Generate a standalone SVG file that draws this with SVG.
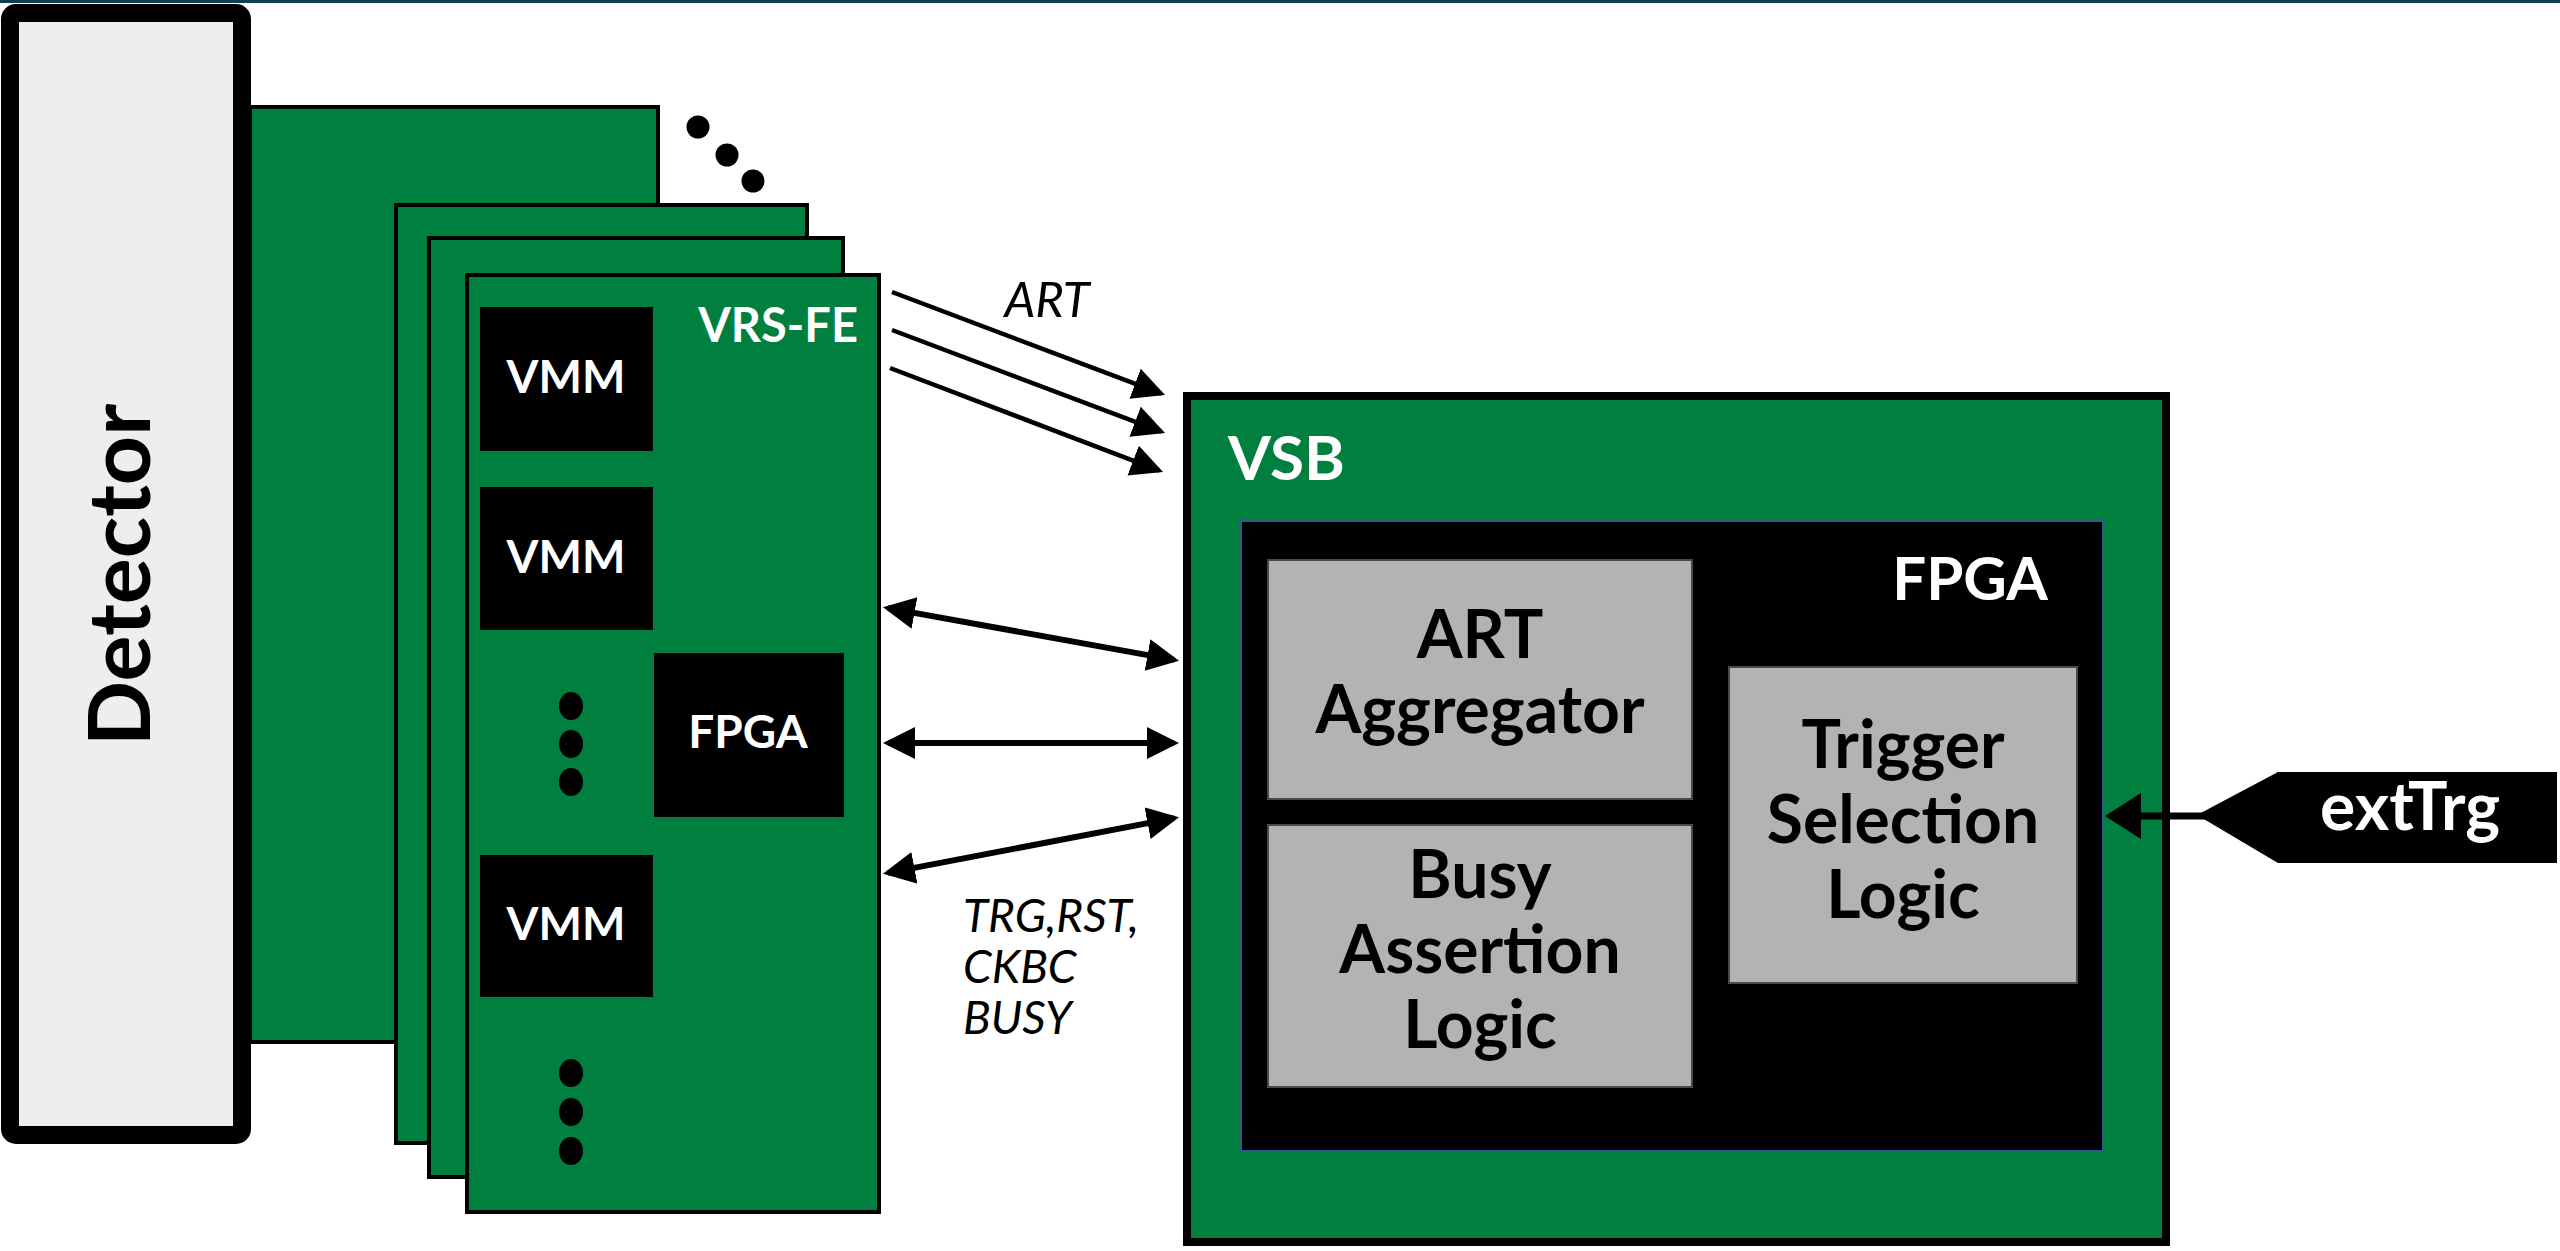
<svg xmlns="http://www.w3.org/2000/svg" width="2560" height="1251" viewBox="0 0 2560 1251">
<style>
  .board { fill: #007f3e; stroke: #000; stroke-width: 4; }
  .chip { fill: #000; }
  .gray { fill: #b3b3b3; stroke: #4a4a4a; stroke-width: 2; }
  .wb { font-family: Lato, "Liberation Sans", sans-serif; font-weight: bold; fill: #fff; }
  .kb { font-family: Lato, "Liberation Sans", sans-serif; font-weight: bold; fill: #000; }
  .ki { font-family: Lato, "Liberation Sans", sans-serif; font-style: italic; fill: #000; }
  .dot { fill: #000; }
  .c6 { stroke: #000; stroke-width: 6; fill: none; }
  .c4 { stroke: #000; stroke-width: 4.5; fill: none; }
</style>
<defs>
  <marker id="ahBi" markerUnits="userSpaceOnUse" markerWidth="34" markerHeight="34" refX="27" refY="16" orient="auto-start-reverse" viewBox="0 0 34 34">
    <path d="M0,0 L32,16 L0,32 z" fill="#000"/>
  </marker>
  <marker id="ahArt" markerUnits="userSpaceOnUse" markerWidth="34" markerHeight="34" refX="28" refY="16" orient="auto" viewBox="0 0 34 34">
    <path d="M0,0 L32,16 L0,32 z" fill="#000"/>
  </marker>
  <marker id="ahExt" markerUnits="userSpaceOnUse" markerWidth="40" markerHeight="48" refX="31" refY="23" orient="auto" viewBox="0 0 40 48">
    <path d="M0,0 L36,23 L0,46 z" fill="#000"/>
  </marker>
</defs>
<rect x="0" y="0" width="2560" height="1251" fill="#fff"/>
<rect x="0" y="0" width="2560" height="3" fill="#123f57"/>

<g id="detector">
  <rect x="10" y="13" width="232" height="1122" rx="6" fill="#eeeeee" stroke="#000" stroke-width="18"/>
  <text class="kb" font-size="86" text-anchor="middle" transform="translate(150,575) rotate(-90)">Detector</text>
</g>

<g id="board-back">
  <rect class="board" x="250" y="107" width="408" height="935"/>
</g>
<g id="more-boards">
  <circle class="dot" cx="698" cy="127" r="11.5"/>
  <circle class="dot" cx="727" cy="155" r="11.5"/>
  <circle class="dot" cx="753" cy="181" r="11.5"/>
</g>
<g id="board-2">
  <rect class="board" x="396" y="205" width="411" height="938"/>
</g>
<g id="board-3">
  <rect class="board" x="429" y="238" width="414" height="939"/>
</g>
<g id="vrs-fe">
  <rect class="board" x="467" y="275" width="412" height="937"/>
  <text class="wb" font-size="47" x="858" y="342" text-anchor="end">VRS-FE</text>
  <g id="vmm1">
    <rect class="chip" x="480" y="307" width="173" height="144"/>
    <text class="wb" font-size="46" x="566" y="393" text-anchor="middle">VMM</text>
  </g>
  <g id="vmm2">
    <rect class="chip" x="480" y="487" width="173" height="143"/>
    <text class="wb" font-size="46" x="566" y="573" text-anchor="middle">VMM</text>
  </g>
  <g id="fe-fpga">
    <rect class="chip" x="654" y="653" width="190" height="164"/>
    <text class="wb" font-size="46" x="748" y="748" text-anchor="middle">FPGA</text>
  </g>
  <g id="vmm3">
    <rect class="chip" x="480" y="855" width="173" height="142"/>
    <text class="wb" font-size="46" x="566" y="940" text-anchor="middle">VMM</text>
  </g>
  <g id="dots-1">
    <ellipse class="dot" cx="571" cy="706" rx="12" ry="14"/>
    <ellipse class="dot" cx="571" cy="744" rx="12" ry="14"/>
    <ellipse class="dot" cx="571" cy="782" rx="12" ry="14"/>
  </g>
  <g id="dots-2">
    <ellipse class="dot" cx="571" cy="1073" rx="12" ry="14"/>
    <ellipse class="dot" cx="571" cy="1112" rx="12" ry="14"/>
    <ellipse class="dot" cx="571" cy="1151" rx="12" ry="14"/>
  </g>
</g>

<g id="vsb">
  <rect x="1187" y="396" width="979" height="846" fill="#007f3e" stroke="#000" stroke-width="8"/>
  <text class="wb" font-size="62" x="1228" y="480">VSB</text>
  <g id="vsb-fpga">
    <rect x="1241" y="521" width="862" height="630" fill="#000" stroke="#2d5c8c" stroke-width="2"/>
    <text class="wb" font-size="60" x="2048" y="600" text-anchor="end">FPGA</text>
  </g>
  <g id="art-aggregator">
    <rect class="gray" x="1268" y="560" width="424" height="239"/>
    <text class="kb" font-size="66" text-anchor="middle"><tspan x="1480" y="658">ART</tspan><tspan x="1480" y="733">Aggregator</tspan></text>
  </g>
  <g id="busy-assertion">
    <rect class="gray" x="1268" y="825" width="424" height="262"/>
    <text class="kb" font-size="66" text-anchor="middle"><tspan x="1480" y="898">Busy</tspan><tspan x="1480" y="973">Assertion</tspan><tspan x="1480" y="1048">Logic</tspan></text>
  </g>
  <g id="trigger-selection">
    <rect class="gray" x="1729" y="667" width="348" height="316"/>
    <text class="kb" font-size="66" text-anchor="middle"><tspan x="1903" y="768">Trigger</tspan><tspan x="1903" y="843">Selection</tspan><tspan x="1903" y="918">Logic</tspan></text>
  </g>
</g>

<g id="exttrg">
  <polygon points="2197,815 2278,772 2557,772 2557,863 2278,863" fill="#000"/>
  <text class="wb" font-size="66" x="2410" y="830" text-anchor="middle">extTrg</text>
</g>

<g id="connectors">
  <line class="c4" x1="892" y1="292" x2="1161.3" y2="393.6" marker-end="url(#ahArt)"/>
  <line class="c4" x1="892" y1="330" x2="1161.3" y2="431.6" marker-end="url(#ahArt)"/>
  <line class="c4" x1="890" y1="368" x2="1159.3" y2="470.6" marker-end="url(#ahArt)"/>
  <line class="c6" x1="887.9" y1="608.1" x2="1174.1" y2="659.9" marker-start="url(#ahBi)" marker-end="url(#ahBi)"/>
  <line class="c6" x1="888" y1="743" x2="1174" y2="743" marker-start="url(#ahBi)" marker-end="url(#ahBi)"/>
  <line class="c6" x1="887.9" y1="872.9" x2="1174.1" y2="818.1" marker-start="url(#ahBi)" marker-end="url(#ahBi)"/>
  <line stroke="#000" stroke-width="7" x1="2205" y1="816" x2="2110" y2="816" marker-end="url(#ahExt)"/>
  <text class="ki" font-size="49" x="1047" y="317" text-anchor="middle">ART</text>
  <text class="ki" font-size="46"><tspan x="963" y="932">TRG,RST,</tspan><tspan x="963" y="983">CKBC</tspan><tspan x="963" y="1034">BUSY</tspan></text>
</g>
</svg>
